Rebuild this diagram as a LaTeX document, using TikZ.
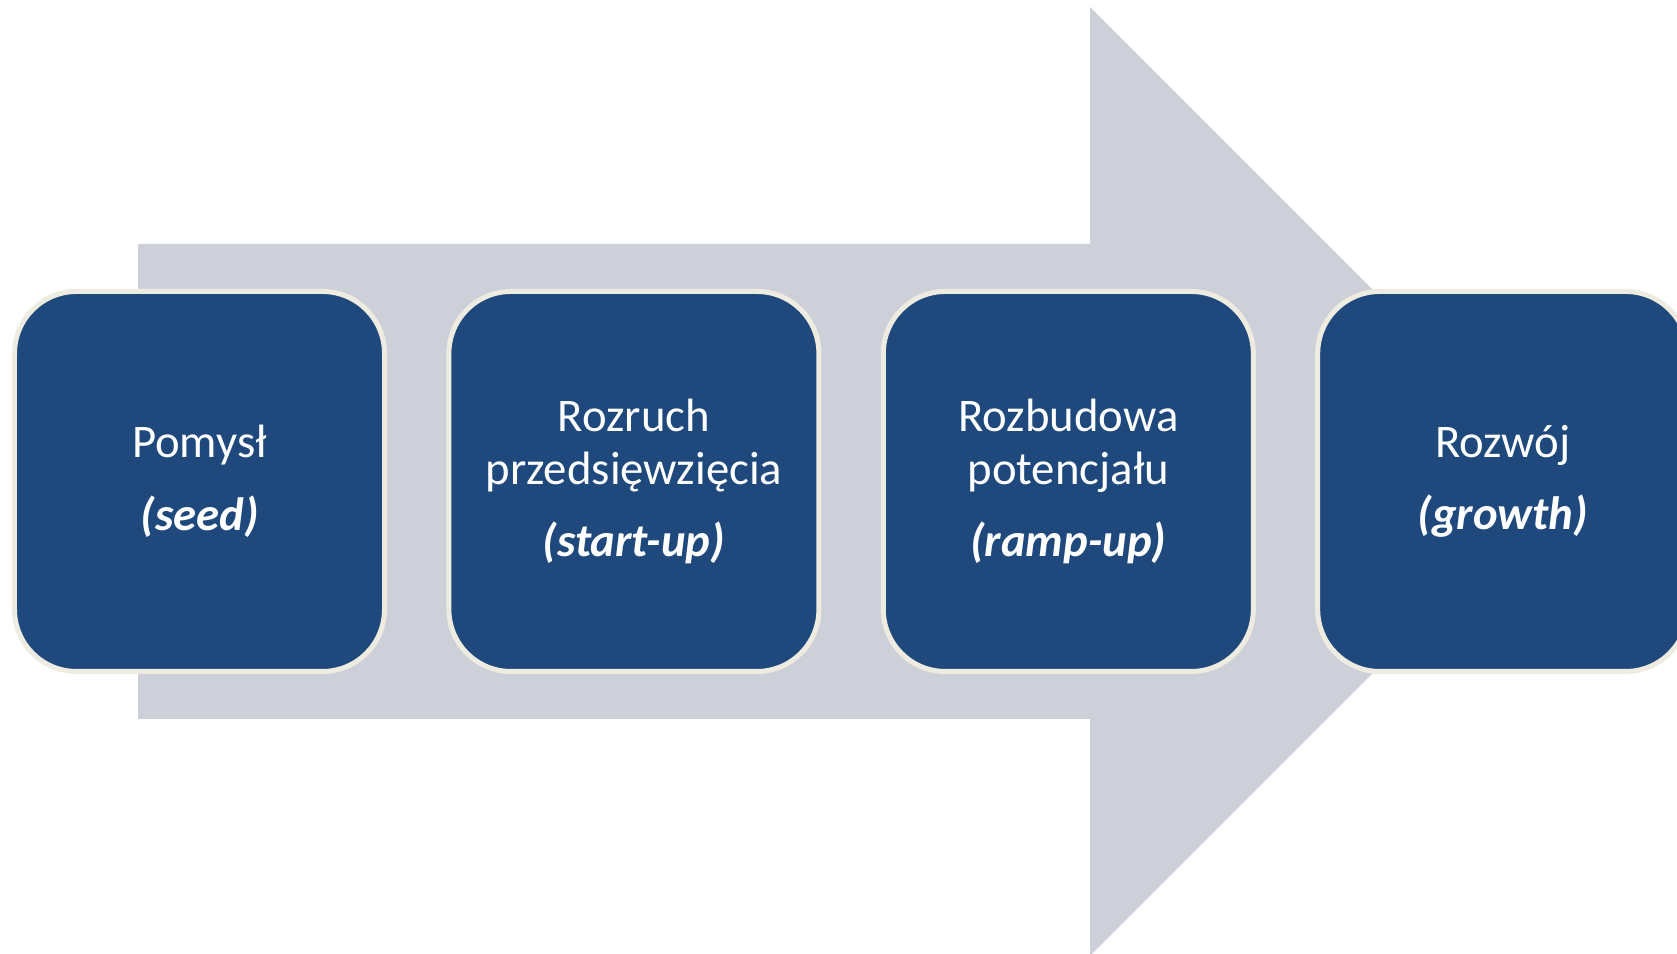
\documentclass[tikz,border=0pt]{standalone}
\usepackage{fontspec}
\setmainfont{Carlito}
\usepackage{tikz}

\definecolor{stageblue}{RGB}{31,73,125}
\definecolor{stageline}{RGB}{238,236,225}
\definecolor{arrowgray}{RGB}{205,208,217}

\tikzset{
  stage/.style={draw=stageline, fill=stageblue, line width=0.05cm,
    rounded corners=0.62cm, minimum width=3.70cm, minimum height=3.80cm,
    inner sep=0pt, align=center, text=white,
    font=\fontsize{13.3}{15}\selectfont},
}
\newcommand{\phase}[1]{\textbf{\textit{#1}}}

\begin{document}
\begin{tikzpicture}
            \useasboundingbox (0,0) rectangle (16.77,9.54);
            \clip (0,0) rectangle (16.77,9.54);
            % big arrow behind the stages
            \fill[arrowgray] (1.38,7.10) -- (10.90,7.10) -- (10.90,9.47)
              -- (15.645,4.725) -- (10.90,-0.02) -- (10.90,2.35)
              -- (1.38,2.35) -- cycle;
            \path
            (1.995,4.725) node[stage](seed) {Pomysł\\[5.7pt]\phase{(seed)}}
            ++(4.344,0) node[stage](startup) {Rozruch\\przedsięwzięcia\\[5.7pt]\phase{(start-up)}}
            ++(4.344,0) node[stage](rampup) {Rozbudowa\\potencjału\\[5.7pt]\phase{(ramp-up)}}
            ++(4.344,0) node[stage](growth) {Rozwój\\[5.7pt]\phase{(growth)}};
\end{tikzpicture}
\end{document}
